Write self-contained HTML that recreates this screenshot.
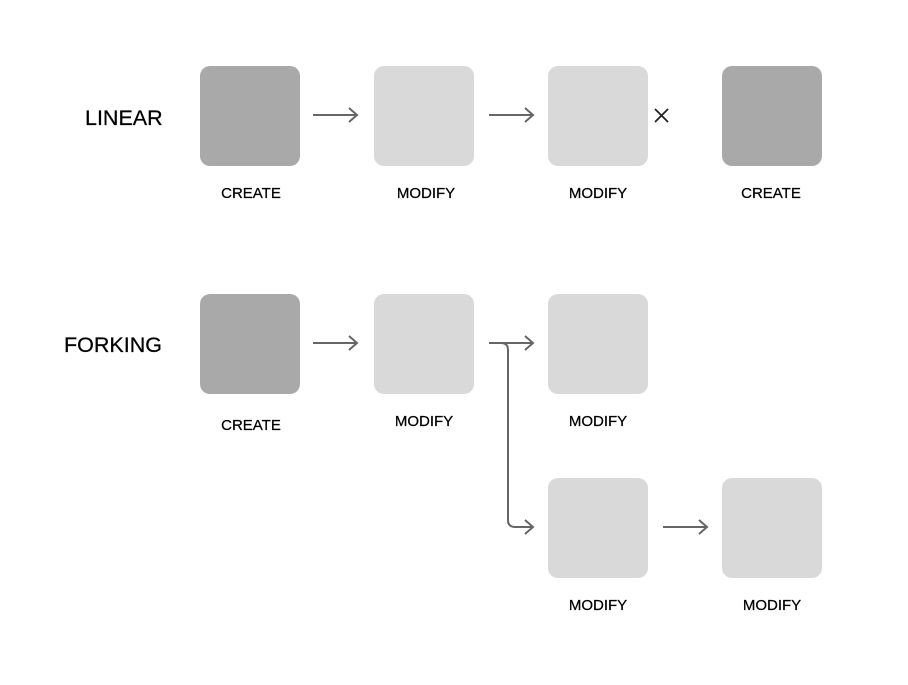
<!DOCTYPE html>
<html><head><style>
body{margin:0;width:908px;height:680px;background:#fff;overflow:hidden}
</style></head><body>
<svg width="908" height="680" xmlns="http://www.w3.org/2000/svg" font-family="Liberation Sans, Arial, sans-serif">
<g>
<rect x="200" y="66" width="100" height="100" rx="10" fill="#a9a9a9"/>
<rect x="374" y="66" width="100" height="100" rx="10" fill="#d9d9d9"/>
<rect x="548" y="66" width="100" height="100" rx="10" fill="#d9d9d9"/>
<rect x="722" y="66" width="100" height="100" rx="10" fill="#a9a9a9"/>
<rect x="200" y="294" width="100" height="100" rx="10" fill="#a9a9a9"/>
<rect x="374" y="294" width="100" height="100" rx="10" fill="#d9d9d9"/>
<rect x="548" y="294" width="100" height="100" rx="10" fill="#d9d9d9"/>
<rect x="548" y="478" width="100" height="100" rx="10" fill="#d9d9d9"/>
<rect x="722" y="478" width="100" height="100" rx="10" fill="#d9d9d9"/>
</g>
<g stroke="#666" stroke-width="2" fill="none">
<path d="M313 115H357M349 108L357 115L349 122"/>
<path d="M489 115H533M525 108L533 115L525 122"/>
<path d="M655 109L668 122M668 109L655 122" stroke="#222" stroke-width="1.8"/>
<path d="M313 343H357M349 336L357 343L349 350"/>
<path d="M489 343H533M525 336L533 343L525 350"/>
<path d="M501 343Q508 343 508 350V520Q508 527 515 527H533M525 520L533 527L525 534"/>
<path d="M663 527H707M699 520L707 527L699 534"/>
</g>
<g font-size="21.5" fill="#000" stroke="#000" stroke-width="0.25">
<text x="85" y="125">LINEAR</text>
<text x="64" y="352">FORKING</text>
</g>
<g font-size="15" fill="#000" stroke="#000" stroke-width="0.25" text-anchor="middle">
<text x="251" y="198">CREATE</text>
<text x="426" y="198">MODIFY</text>
<text x="598" y="198">MODIFY</text>
<text x="771" y="198">CREATE</text>
<text x="251" y="430">CREATE</text>
<text x="424" y="426">MODIFY</text>
<text x="598" y="426">MODIFY</text>
<text x="598" y="610">MODIFY</text>
<text x="772" y="610">MODIFY</text>
</g>
</svg>
</body></html>
